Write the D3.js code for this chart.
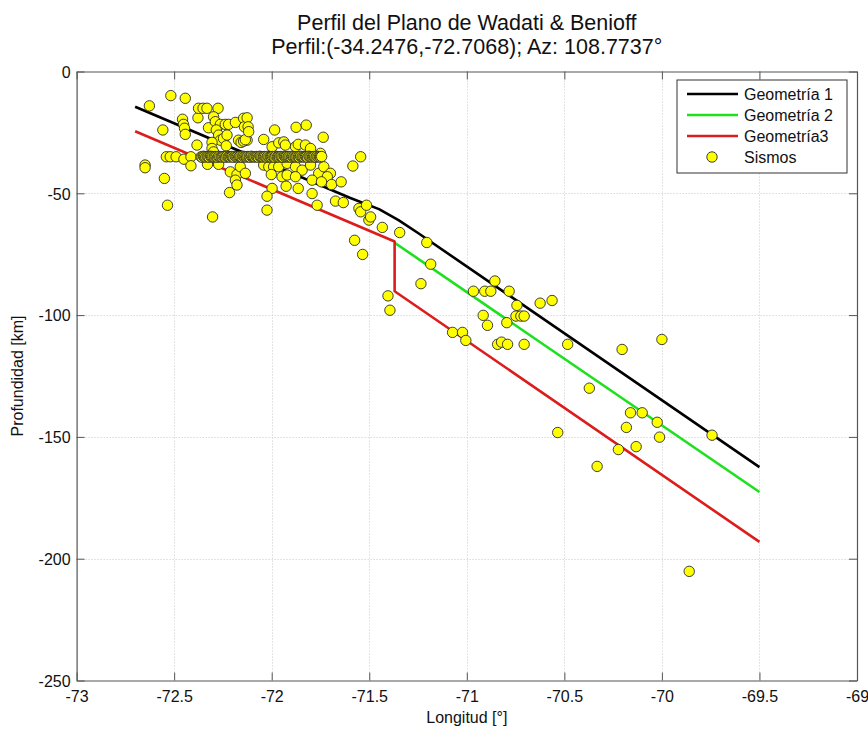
<!DOCTYPE html>
<html>
<head>
<meta charset="utf-8">
<script src="https://cdn.jsdelivr.net/npm/d3@7"></script>
<style>
  html, body { margin: 0; padding: 0; background: #fff; }
  svg { display: block; font-family: "Liberation Sans", Arial, Helvetica, sans-serif; }
</style>
</head>
<body>
<svg id="chart" width="868" height="732"></svg>
<script>
// ---------- DATA ----------
const titleLines = ["Perfil del Plano de Wadati & Benioff", "Perfil:(-34.2476,-72.7068); Az: 108.7737°"];
const xLabel = "Longitud [°]";
const yLabel = "Profundidad [km]";
const xTicks = [-73, -72.5, -72, -71.5, -71, -70.5, -70, -69.5, -69];
const yTicks = [-250, -200, -150, -100, -50, 0];
const legendLabels = ["Geometría 1", "Geometría 2", "Geometría3", "Sismos"];

const geom1Lon   = [-72.7, -71.6, -71.45, -71.35, -71.25, -69.5];
const geom1Depth = [-14.5, -51.8, -56.5, -61.0, -66.3, -162.4];
const geom2Lon   = [-71.37, -69.5];
const geom2Depth = [-70.3, -172.6];
const geom3Lon   = [-72.7, -71.37, -71.37, -69.5];
const geom3Depth = [-24.5, -69.8, -90.2, -193.1];

// Sismos (earthquakes) - scattered events
const sismosLon = [
  -72.649, -72.649, -72.627, -72.558, -72.550, -72.534, -72.517, -72.443,
  -72.457, -72.452, -72.447, -72.443, -72.540, -72.520, -72.490, -72.450, -72.414, -72.414,
  -72.383, -72.378, -72.375, -72.352, -72.332, -72.275, -72.324, -72.298, -72.289,
  -72.263, -72.238, -72.221, -72.186, -72.144, -72.140,
  -72.284, -72.272, -72.263, -72.247, -72.229, -72.306, -72.306, -72.298, -72.233,
  -72.170, -72.157, -72.144, -72.126, -72.329, -72.272,
  -72.212, -72.178, -72.186, -72.178, -72.216, -72.303, -72.161, -72.135, -72.135,
  -71.985, -71.875, -71.823, -71.736, -71.544, -71.584,
  -72.126, -72.121, -72.118, -72.041, -71.998, -71.964, -71.938, -71.930,
  -71.878, -71.864, -71.827, -71.801, -71.750,
  -72.041, -72.015, -71.990, -71.964, -71.921, -71.878, -71.844, -71.801, -71.759, -71.733, -71.699, -71.715,
  -72.002, -71.947, -71.921, -71.878, -71.793, -71.745, -71.693, -71.644,
  -71.926, -71.864, -71.793, -71.998, -72.024, -71.673, -71.633, -71.767, -72.024,
  -71.553, -71.544, -71.514, -71.502, -71.493, -71.433, -71.344, -71.575, -71.534,
  -71.205, -71.185, -71.235, -71.404, -71.394, -71.073, -71.022, -71.005,
  -70.966, -70.908, -70.877, -70.856, -70.783, -70.743, -70.748, -70.723, -70.706,
  -70.916, -70.894, -70.842, -70.822, -70.791, -70.795, -70.706,
  -70.624, -70.563, -70.483, -70.204, -70.000, -70.372, -70.161, -70.101, -70.024,
  -70.534, -70.182, -70.012, -69.743, -70.223, -70.132, -70.332, -69.860
];
const sismosDepth = [
  -38.4, -39.5, -14.1, -24.0, -43.9, -54.9, -9.9, -11.0,
  -19.6, -21.7, -23.3, -25.8, -35.0, -35.0, -35.0, -36.0, -35.0, -38.7,
  -30.2, -19.0, -15.1, -15.1, -15.1, -15.1, -23.1, -18.6, -20.6,
  -21.7, -21.7, -21.7, -20.9, -19.2, -22.7,
  -24.0, -26.1, -28.2, -27.5, -26.1, -29.1, -31.6, -33.0, -30.5,
  -28.2, -29.1, -28.6, -28.2, -38.1, -38.1,
  -41.2, -42.3, -44.6, -46.6, -49.7, -59.7, -39.1, -41.8, -28.0,
  -24.0, -22.9, -22.0, -27.0, -35.0, -38.8,
  -19.0, -22.7, -24.7, -27.9, -30.9, -29.3, -28.9, -30.2,
  -30.9, -29.9, -30.2, -31.6, -33.6,
  -38.4, -39.1, -39.1, -39.1, -37.7, -39.1, -40.5, -38.4, -41.8, -39.1, -41.8, -43.2,
  -42.3, -43.2, -42.5, -43.2, -44.6, -45.3, -46.4, -45.3,
  -47.1, -48.0, -50.1, -48.0, -51.2, -53.2, -53.8, -54.9, -56.9,
  -56.2, -57.6, -54.9, -61.0, -59.7, -64.0, -66.1, -69.3, -75.1,
  -70.2, -79.1, -87.1, -92.1, -98.0, -107.1, -107.1, -110.4,
  -90.2, -90.2, -90.2, -86.0, -90.2, -96.0, -100.4, -100.4, -100.4,
  -100.1, -104.2, -112.0, -111.1, -112.0, -103.1, -112.0,
  -95.1, -94.0, -112.0, -114.1, -110.0, -130.0, -140.1, -140.1, -144.0,
  -148.2, -146.1, -150.1, -149.3, -155.2, -154.0, -162.1, -205.2
];
// Dense band of events fixed at ~35 km depth
const bandLon = [
  -72.362, -72.357, -72.350, -72.345, -72.338, -72.331, -72.326, -72.320, -72.313, -72.308,
  -72.302, -72.295, -72.290, -72.284, -72.277, -72.272, -72.266, -72.259, -72.254, -72.248,
  -72.241, -72.236, -72.230, -72.223, -72.218, -72.212, -72.205, -72.200, -72.194, -72.187,
  -72.182, -72.176, -72.169, -72.164, -72.158, -72.151, -72.146, -72.140, -72.133, -72.128,
  -72.122, -72.115, -72.110, -72.104, -72.097, -72.092, -72.086, -72.079, -72.074, -72.068,
  -72.061, -72.056, -72.050, -72.043, -72.038, -72.032, -72.025, -72.020, -72.014, -72.007,
  -72.002, -71.996, -71.989, -71.984, -71.978, -71.971, -71.966, -71.960, -71.953, -71.948,
  -71.942, -71.935, -71.930, -71.924, -71.917, -71.912, -71.906, -71.899, -71.894, -71.888,
  -71.881, -71.876, -71.870, -71.863, -71.858, -71.852, -71.845, -71.840, -71.834, -71.827,
  -71.822, -71.816, -71.809, -71.804, -71.798, -71.791, -71.786, -71.780, -71.773, -71.768,
  -71.762, -71.755, -71.750, -71.744
];
const bandDepth = [
  -35.0, -35.2, -34.8, -35.0, -35.1, -34.9, -35.0, -35.2, -34.8, -35.0,
  -35.0, -35.1, -34.9, -35.0, -35.2, -34.8, -35.0, -35.0, -35.1, -34.9,
  -35.0, -35.2, -34.8, -35.0, -35.0, -35.1, -34.9, -35.0, -35.2, -34.8,
  -35.0, -35.0, -35.1, -34.9, -35.0, -35.2, -34.8, -35.0, -35.0, -35.1,
  -34.9, -35.0, -35.2, -34.8, -35.0, -35.0, -35.1, -34.9, -35.0, -35.2,
  -34.8, -35.0, -35.0, -35.1, -34.9, -35.0, -35.2, -34.8, -35.0, -35.0,
  -35.1, -34.9, -35.0, -35.2, -34.8, -35.0, -35.0, -35.1, -34.9, -35.0,
  -35.2, -34.8, -35.0, -35.0, -35.1, -34.9, -35.0, -35.2, -34.8, -35.0,
  -35.0, -35.1, -34.9, -35.0, -35.2, -34.8, -35.0, -35.0, -35.1, -34.9,
  -35.0, -35.2, -34.8, -35.0, -35.0, -35.1, -34.9, -35.0, -35.2, -34.8,
  -35.0, -35.0, -35.1, -34.9
];

// ---------- CHART ----------
const W = 868, H = 732;
const svg = d3.select("#chart");
const x = d3.scaleLinear().domain([-73, -69]).range([76.6, 857]);
const y = d3.scaleLinear().domain([-250, 0]).range([680.5, 71.5]);
const [x0, x1] = x.range();
const [y0, y1] = y.range();

svg.append("rect").attr("width", W).attr("height", H).attr("fill", "#fff");

// grid
const grid = svg.append("g").attr("stroke", "#c8c8c8").attr("stroke-width", 1).attr("stroke-dasharray", "1,2");
grid.selectAll("line.gx").data(xTicks.slice(1, -1)).join("line")
  .attr("x1", d => Math.round(x(d)) + 0.5).attr("x2", d => Math.round(x(d)) + 0.5)
  .attr("y1", y1).attr("y2", y0);
grid.selectAll("line.gy").data(yTicks.slice(1, -1)).join("line")
  .attr("y1", d => Math.round(y(d)) + 0.5).attr("y2", d => Math.round(y(d)) + 0.5)
  .attr("x1", x0).attr("x2", x1);

// geometry lines
const lineGen = d3.line().x(d => x(d[0])).y(d => y(d[1]));
const geoms = [
  { lon: geom1Lon, dep: geom1Depth, color: "#000000" },
  { lon: geom2Lon, dep: geom2Depth, color: "#1ee01e" },
  { lon: geom3Lon, dep: geom3Depth, color: "#dd1c1c" }
];
geoms.forEach(g => {
  svg.append("path")
    .datum(g.lon.map((v, i) => [v, g.dep[i]]))
    .attr("d", lineGen)
    .attr("fill", "none")
    .attr("stroke", g.color)
    .attr("stroke-width", 2.6)
    .attr("stroke-linejoin", "round");
});

// earthquakes
const pts = sismosLon.map((v, i) => [v, sismosDepth[i]])
  .concat(bandLon.map((v, i) => [v, bandDepth[i]]));
svg.append("g").selectAll("circle").data(pts).join("circle")
  .attr("cx", d => x(d[0])).attr("cy", d => y(d[1]))
  .attr("r", 5.2)
  .attr("fill", "#ffff00")
  .attr("stroke", "#2a2a2a")
  .attr("stroke-width", 0.9);

// axes (box with inward ticks)
const fmt = d => String(d);
const axB = svg.append("g").attr("transform", `translate(0,${y0})`)
  .call(d3.axisBottom(x).tickValues(xTicks).tickFormat(fmt).tickSizeInner(-8).tickSizeOuter(0).tickPadding(10));
const axT = svg.append("g").attr("transform", `translate(0,${y1})`)
  .call(d3.axisTop(x).tickValues(xTicks).tickFormat("").tickSizeInner(-8).tickSizeOuter(0));
const axL = svg.append("g").attr("transform", `translate(${x0},0)`)
  .call(d3.axisLeft(y).tickValues(yTicks).tickFormat(fmt).tickSizeInner(-8).tickSizeOuter(0).tickPadding(6));
const axR = svg.append("g").attr("transform", `translate(${x1},0)`)
  .call(d3.axisRight(y).tickValues(yTicks).tickFormat("").tickSizeInner(-8).tickSizeOuter(0));
[axB, axT, axL, axR].forEach(a => {
  a.select(".domain").attr("stroke", "#555").attr("stroke-width", 1.2);
  a.selectAll(".tick line").attr("stroke", "#555");
  a.selectAll("text").attr("font-size", 16).attr("fill", "#111")
    .attr("font-family", '"Liberation Sans", Arial, sans-serif');
});
axL.selectAll("text").attr("dy", "0.36em");

// titles
svg.append("text").attr("x", (x0 + x1) / 2).attr("y", 30)
  .attr("text-anchor", "middle").attr("font-size", 21.5).attr("fill", "#111").text(titleLines[0]);
svg.append("text").attr("x", (x0 + x1) / 2).attr("y", 54)
  .attr("text-anchor", "middle").attr("font-size", 21.5).attr("fill", "#111").text(titleLines[1]);

// axis labels
svg.append("text").attr("x", (x0 + x1) / 2).attr("y", 723)
  .attr("text-anchor", "middle").attr("font-size", 16).attr("fill", "#111").text(xLabel);
svg.append("text").attr("transform", `translate(23,${(y0 + y1) / 2}) rotate(-90)`)
  .attr("text-anchor", "middle").attr("font-size", 16).attr("fill", "#111").text(yLabel);

// legend
const lg = svg.append("g").attr("transform", "translate(677,80)");
lg.append("rect").attr("width", 170).attr("height", 93)
  .attr("fill", "#fff").attr("stroke", "#333").attr("stroke-width", 1);
const legendStyles = [
  { type: "line", color: "#000000" },
  { type: "line", color: "#1ee01e" },
  { type: "line", color: "#dd1c1c" },
  { type: "dot" }
];
legendLabels.forEach((lab, i) => {
  const yy = 14 + i * 21;
  const s = legendStyles[i];
  if (s.type === "line") {
    lg.append("line").attr("x1", 10).attr("x2", 61).attr("y1", yy).attr("y2", yy)
      .attr("stroke", s.color).attr("stroke-width", 2.6);
  } else {
    lg.append("circle").attr("cx", 35).attr("cy", yy).attr("r", 5.2)
      .attr("fill", "#ffff00").attr("stroke", "#2a2a2a").attr("stroke-width", 0.9);
  }
  lg.append("text").attr("x", 67).attr("y", yy).attr("dy", "0.36em")
    .attr("font-size", 16).attr("fill", "#111").text(lab);
});
</script>
</body>
</html>
